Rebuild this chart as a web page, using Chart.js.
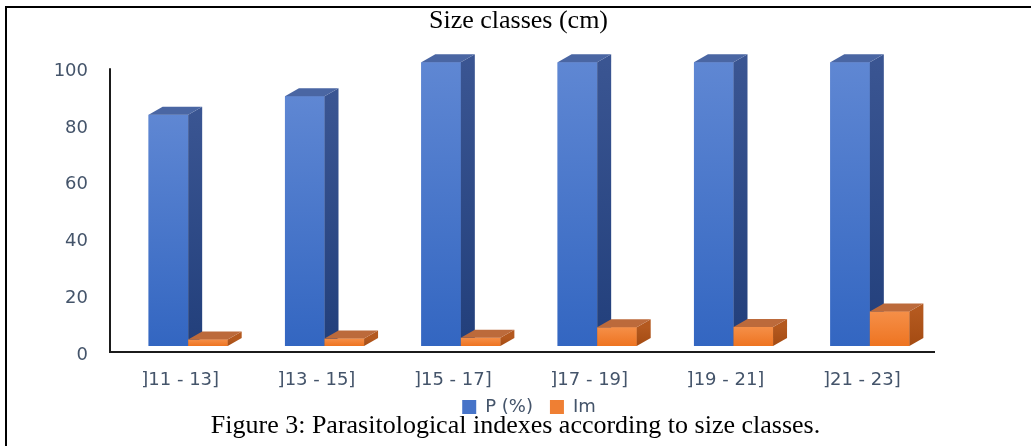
<!DOCTYPE html>
<html><head><meta charset="utf-8">
<script src="https://cdn.jsdelivr.net/npm/chart.js@4.4.0/dist/chart.umd.min.js"></script>
<style>
html,body{margin:0;padding:0;background:#fff;}
#wrap{position:relative;width:1031px;height:446px;overflow:hidden;background:#fff;}
#frame{position:absolute;left:5px;top:6px;right:-10px;bottom:-10px;border-top:2px solid #000;border-left:2px solid #000;}
canvas{position:absolute;left:0;top:0;}
#caption{position:absolute;left:0;width:1031px;top:409px;text-align:center;font-family:"Liberation Serif","Times New Roman",serif;font-size:26px;line-height:32px;color:#000;white-space:nowrap;}
</style></head><body>
<div id="wrap"><div id="frame"></div><canvas id="c" width="1031" height="446"></canvas><div id="caption">Figure 3: Parasitological indexes according to size classes.</div></div>
<script>
const categories = [']11 - 13]', ']13 - 15]', ']15 - 17]', ']17 - 19]', ']19 - 21]', ']21 - 23]'];
const seriesNames = ['P (%)', 'Im'];
const pValues = [81.5, 88, 100, 100, 100, 100];
const imValues = [2.3, 2.6, 2.9, 6.6, 6.7, 12.2];
const yTickValues = [0, 20, 40, 60, 80, 100];

const DX = 14, DY = -8;
const faces = [
  {frontTop:'#5F87D3', frontBottom:'#3366C1', sideTop:'#3A5592', sideBottom:'#223F7B', top:'#4A66A3'},
  {frontTop:'#F58F48', frontBottom:'#EE7421', sideTop:'#B4591F', sideBottom:'#A44B12', top:'#BC6A3B'}
];

const bars3d = {
  id: 'bars3d',
  afterDatasetsDraw(chart) {
    const ctx = chart.ctx;
    const metas = chart.data.datasets.map((d, i) => chart.getDatasetMeta(i));
    const n = chart.data.labels.length;
    ctx.save();
    for (let j = 0; j < n; j++) {
      metas.forEach((meta, i) => {
        const el = meta.data[j];
        if (!el) return;
        const p = el.getProps(['x', 'y', 'base', 'width'], true);
        const l = p.x - p.width / 2, r = p.x + p.width / 2, y = p.y, b = p.base;
        const c = faces[i];
        const g = ctx.createLinearGradient(0, y, 0, b);
        g.addColorStop(0, c.frontTop); g.addColorStop(1, c.frontBottom);
        ctx.fillStyle = g;
        ctx.fillRect(l, y, r - l, b - y);
        const gs = ctx.createLinearGradient(0, y, 0, b);
        gs.addColorStop(0, c.sideTop); gs.addColorStop(1, c.sideBottom);
        ctx.fillStyle = gs;
        ctx.beginPath();
        ctx.moveTo(r, y); ctx.lineTo(r + DX, y + DY); ctx.lineTo(r + DX, b + DY); ctx.lineTo(r, b);
        ctx.closePath(); ctx.fill();
        ctx.fillStyle = c.top;
        ctx.beginPath();
        ctx.moveTo(l, y); ctx.lineTo(l + DX, y + DY); ctx.lineTo(r + DX, y + DY); ctx.lineTo(r, y);
        ctx.closePath(); ctx.fill();
      });
    }
    ctx.restore();
  }
};

const axesLines = {
  id: 'axesLines',
  beforeDatasetsDraw(chart) {
    const {ctx, chartArea: a, scales} = chart;
    const y0 = scales.y.getPixelForValue(0) + 6;
    const lx = a.left - 10;
    ctx.save();
    ctx.strokeStyle = '#1b1b1b';
    ctx.lineWidth = 2;
    ctx.beginPath();
    ctx.moveTo(lx, a.top + 6);
    ctx.lineTo(lx, y0);
    ctx.lineTo(a.right - 3, y0);
    ctx.stroke();
    ctx.restore();
  }
};

// nudges the title and legend blocks to where the reference places them
const blockNudge = {
  id: 'blockNudge',
  afterLayout(chart) {
    const t = chart.titleBlock;
    if (t) { t.left += 27; t.right += 27; }
    const lg = chart.legend;
    if (lg) { lg.top -= 13; lg.bottom -= 13; }
  }
};

const tickFont = {family: '"DejaVu Sans", sans-serif', size: 18};
const tickColor = '#44546A';

new Chart(document.getElementById('c'), {
  type: 'bar',
  data: {
    labels: categories,
    datasets: [
      {label: seriesNames[0], data: pValues, backgroundColor: '#4673C8', borderWidth: 0},
      {label: seriesNames[1], data: imValues, backgroundColor: '#EF7F33', borderWidth: 0}
    ]
  },
  options: {
    responsive: false,
    animation: false,
    devicePixelRatio: 1,
    layout: {padding: {left: 45, right: 93, top: 0, bottom: 7}},
    datasets: {bar: {categoryPercentage: 0.58, barPercentage: 1}},
    plugins: {
      tooltip: {enabled: false},
      title: {
        display: true,
        text: 'Size classes (cm)',
        color: '#000',
        font: {family: '"Liberation Serif", "Times New Roman", serif', size: 26, weight: 'normal'},
        padding: {top: 6, bottom: 25}
      },
      legend: {
        position: 'bottom',
        fullSize: false,
        labels: {boxWidth: 14, boxHeight: 14, padding: 17, color: tickColor, font: tickFont}
      }
    },
    scales: {
      x: {
        grid: {display: false, drawTicks: false},
        border: {display: false},
        ticks: {color: tickColor, font: tickFont, padding: 24, labelOffset: -8, maxRotation: 0},
        afterFit(s) { s.height = 48; }
      },
      y: {
        min: 0, max: 100,
        afterBuildTicks(s) { s.ticks = yTickValues.map(v => ({value: v})); },
        grid: {display: false, drawTicks: false},
        border: {display: false},
        ticks: {color: tickColor, font: tickFont, padding: 32, labelOffset: 9},
        afterFit(s) { s.width = 75; }
      }
    }
  },
  plugins: [axesLines, bars3d, blockNudge]
});
</script>
</body></html>
